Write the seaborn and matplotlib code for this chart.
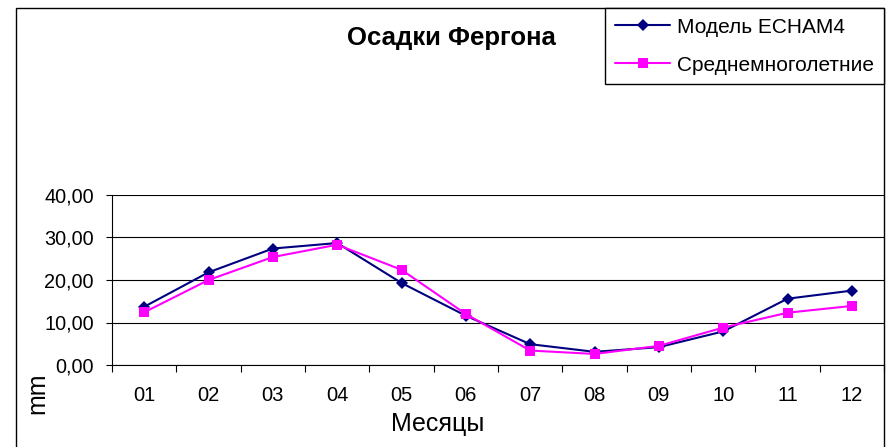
import numpy as np
import pandas as pd
import matplotlib
matplotlib.use("Agg")
import matplotlib.pyplot as plt
import seaborn as sns
from matplotlib.patches import Rectangle
from matplotlib.ticker import FuncFormatter, FixedLocator

months = ['01', '02', '03', '04', '05', '06', '07', '08', '09', '10', '11', '12']
echam = [13.7, 21.8, 27.4, 28.7, 19.3, 11.6, 4.9, 3.1, 4.2, 7.9, 15.6, 17.5]
clim = [12.4, 20.0, 25.4, 28.3, 22.4, 12.0, 3.4, 2.6, 4.5, 8.8, 12.3, 13.9]
series_names = ['Модель ECHAM4', 'Среднемноголетние']
title = 'Осадки Фергона'
xlabel = 'Месяцы'
ylabel = 'mm'

sns.set_theme(style='white')
plt.rcParams['font.family'] = ['Liberation Sans', 'DejaVu Sans']
plt.rcParams['text.color'] = 'black'

W, H = 891, 447
fig = plt.figure(figsize=(W / 100, H / 100), dpi=100)
ax = fig.add_axes([112 / W, (H - 365) / H, 772 / W, 170 / H])

df = pd.DataFrame({
    'x': list(range(len(months))) * 2,
    'y': echam + clim,
    'series': [series_names[0]] * len(months) + [series_names[1]] * len(months),
})

colors = {series_names[0]: '#000080', series_names[1]: '#FF00FF'}
sns.lineplot(data=df, x='x', y='y', hue='series', style='series',
             markers={series_names[0]: 'D', series_names[1]: 's'},
             dashes=False, palette=colors, linewidth=1.5,
             markeredgewidth=0, ax=ax, legend=False)
for line, ms in zip(ax.lines, [6.3, 7.8]):
    line.set_markersize(ms)

ax.set_xlim(-0.5, len(months) - 0.5)
ax.set_ylim(0, 40)
ax.set_yticks([0, 10, 20, 30, 40])
ax.yaxis.set_major_formatter(FuncFormatter(lambda v, p: f"{v:.2f}".replace('.', ',')))
ax.set_xticks(range(len(months)))
ax.set_xticklabels(months)
ax.xaxis.set_minor_locator(FixedLocator(np.arange(-0.5, len(months), 1.0)))
ax.tick_params(axis='x', which='major', length=0, pad=15, labelsize=14.5, colors='black')
ax.tick_params(axis='x', which='minor', length=5, width=0.8, color='black', direction='out', bottom=True)
ax.tick_params(axis='y', which='major', length=4.5, width=0.8, color='black', direction='out',
               left=True, pad=8.5, labelsize=14.3, labelcolor='black')
ax.set_xlabel('')
ax.set_ylabel('')
ax.yaxis.grid(True, color='black', linewidth=0.8)
ax.set_axisbelow(True)
for s in ['top', 'right']:
    ax.spines[s].set_visible(False)
for s in ['left', 'bottom']:
    ax.spines[s].set_color('black')
    ax.spines[s].set_linewidth(0.8)
ax.patch.set_alpha(0)

# outer chart frame
fig.add_artist(Rectangle((16 / W, -0.05), (884 - 16) / W, (1 - 8 / H) + 0.05,
                         transform=fig.transFigure, fill=False, ec='black', lw=1.0))

fig.text(451 / W, 1 - 38 / H, title, ha='center', va='center', fontsize=18.5,
         fontweight='bold', color='black')
fig.text(438 / W, 1 - 431 / H, xlabel, ha='center', va='baseline', fontsize=18, color='black')
fig.text(37 / W, 1 - 393 / H, ylabel, ha='center', va='center', rotation=90, fontsize=18, color='black')

handles = [plt.Line2D([], [], color=colors[n], marker=m, markersize=ms, markeredgewidth=0, linewidth=1.5)
           for n, m, ms in zip(series_names, ['D', 's'], [6.3, 7.8])]
leg = fig.legend(handles, series_names, loc='upper right', bbox_to_anchor=(884 / W, 1 - 8 / H),
                 bbox_transform=fig.transFigure, borderaxespad=0, fontsize=15,
                 frameon=True, fancybox=False, framealpha=1, edgecolor='black',
                 handlelength=2.65, handletextpad=0.34, labelspacing=0.9, borderpad=0.47)
leg.get_frame().set_linewidth(1.0)
for t in leg.get_texts():
    t.set_color('black')

fig.savefig('out.png', dpi=100)
